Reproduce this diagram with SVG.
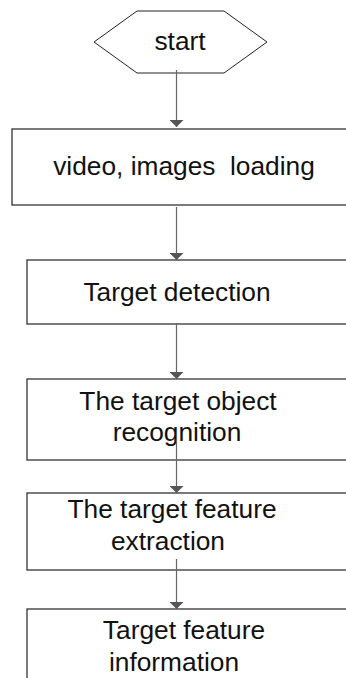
<svg xmlns="http://www.w3.org/2000/svg" width="346" height="678" viewBox="0 0 346 678">
<style>
.box{fill:#fff;stroke:#333;stroke-width:1.3}
.hex{fill:#fff;stroke:#222;stroke-width:1}
.t{font-family:"Liberation Sans",Arial,sans-serif;font-size:26.3px;fill:#111;text-anchor:middle}
.c{stroke:#666;stroke-width:1.2;fill:none}
</style>
<defs>
<marker id="ah" markerWidth="7" markerHeight="14" refX="7" refY="7" orient="auto" markerUnits="userSpaceOnUse">
<path d="M0,0 L7,7 L0,14 Z" fill="#555"/>
</marker>
</defs>
<rect width="346" height="678" fill="#fff"/>
<g id="start">
<polygon class="hex" points="94,42 137,11 224,11 267,42 224,73 137,73"/>
<text class="t" x="180" y="50">start</text>
</g>
<g id="loading">
<rect class="box" x="12" y="129" width="340" height="76"/>
<text class="t" x="184" y="175" xml:space="preserve">video, images  loading</text>
</g>
<g id="detection">
<rect class="box" x="27" y="260" width="325" height="64"/>
<text class="t" x="177" y="301">Target detection</text>
</g>
<g id="recognition">
<rect class="box" x="27" y="379" width="325" height="81"/>
<text class="t" x="178" y="410">The target object</text>
<text class="t" x="177" y="441">recognition</text>
</g>
<g id="extraction">
<rect class="box" x="27" y="493" width="325" height="77"/>
<text class="t" x="172" y="518">The target feature</text>
<text class="t" x="168" y="550">extraction</text>
</g>
<g id="information">
<rect class="box" x="27" y="609" width="325" height="90"/>
<text class="t" x="184" y="639">Target feature</text>
<text class="t" x="174" y="671">information</text>
</g>
<g id="connectors">
<line class="c" x1="176.5" y1="70" x2="176.5" y2="127" marker-end="url(#ah)"/>
<line class="c" x1="176.5" y1="207" x2="176.5" y2="260" marker-end="url(#ah)"/>
<line class="c" x1="176.5" y1="323" x2="176.5" y2="379" marker-end="url(#ah)"/>
<line class="c" x1="176.5" y1="438" x2="176.5" y2="493" marker-end="url(#ah)"/>
<line class="c" x1="176.5" y1="559" x2="176.5" y2="609" marker-end="url(#ah)"/>
</g>
</svg>
